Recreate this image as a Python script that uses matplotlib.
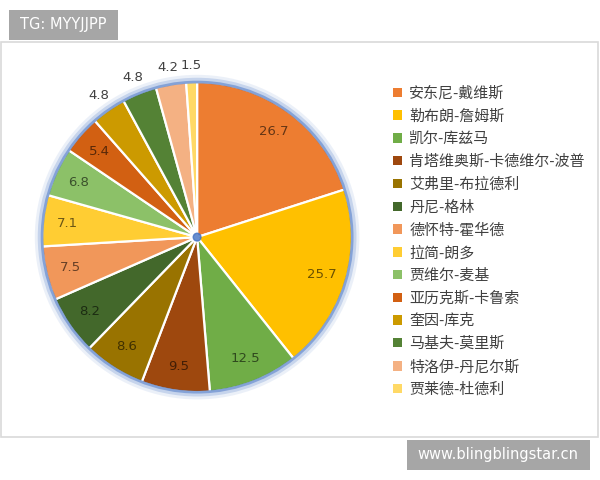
import numpy as np
import matplotlib
matplotlib.use("Agg")
import matplotlib.pyplot as plt
from matplotlib.patches import Rectangle, Circle

plt.rcParams['font.family'] = ['Noto Sans CJK SC', 'DejaVu Sans']

# players and values, clockwise from 12 o'clock
players = ["安东尼-戴维斯", "勒布朗-詹姆斯", "凯尔-库兹马", "肯塔维奥斯-卡德维尔-波普",
           "艾弗里-布拉德利", "丹尼-格林", "德怀特-霍华德", "拉简-朗多", "贾维尔-麦基",
           "亚历克斯-卡鲁索", "奎因-库克", "马基夫-莫里斯", "特洛伊-丹尼尔斯", "贾莱德-杜德利"]
values = [26.7, 25.7, 12.5, 9.5, 8.6, 8.2, 7.5, 7.1, 6.8, 5.4, 4.8, 4.8, 4.2, 1.5]
colors = ["#ED7D31", "#FFC000", "#70AD47", "#9E480E", "#997300", "#43682B", "#F1975A",
          "#FFCD33", "#8CC168", "#D26012", "#CC9A00", "#548235", "#F4B183", "#FFD966"]
outside = [False] * 10 + [True] * 4

fig = plt.figure(figsize=(6, 4.8), dpi=100)

# outer frame (behind the axes)
fig.patches.append(Rectangle((1 / 600, 43 / 480), 597 / 600, 395 / 480, transform=fig.transFigure,
                             facecolor="white", edgecolor="#d9d9d9", linewidth=1.2, zorder=-5))

ax = fig.add_axes([0.070, 0.183, 0.517, 0.646])
ax.set_zorder(2)
wedges, _ = ax.pie(values, colors=colors, startangle=90, counterclock=False,
                   wedgeprops=dict(edgecolor="white", linewidth=1.6))
for w in wedges:
    w.set_clip_on(False)

# blue glow around rim and centre
for r, lw, a in [(1.02, 6, 0.10), (1.01, 4, 0.22), (1.0, 2, 0.5)]:
    ax.add_patch(Circle((0, 0), r, fill=False, edgecolor="#4472C4", linewidth=lw, alpha=a, clip_on=False))
ax.add_patch(Circle((0, 0), 0.025, color="#4472C4", alpha=0.8))

for w, v, out in zip(wedges, values, outside):
    ang = np.deg2rad((w.theta1 + w.theta2) / 2)
    if out:
        r, col = 1.11, "#404040"
    else:
        r = 0.84
        col = tuple(c * 0.42 for c in matplotlib.colors.to_rgb(w.get_facecolor()))
    ax.text(r * np.cos(ang), r * np.sin(ang), f"{v}", ha="center", va="center",
            fontsize=9.5, color=col, family=["DejaVu Sans"])

ax.set_xlim(-1, 1)
ax.set_ylim(-1, 1)
ax.set_aspect("equal")
ax.axis("off")

leg = fig.legend(wedges, players, loc="upper left", bbox_to_anchor=(0.632, 0.849),
                 frameon=False, fontsize=10.8, handlelength=0.6, handleheight=0.6,
                 handletextpad=0.5, labelspacing=0.56)
for t in leg.get_texts():
    t.set_color("#404040")
for h in leg.legend_handles:
    h.set_edgecolor("none")

# watermark boxes
fig.patches.append(Rectangle((9 / 600, 1 - 40 / 480), 109 / 600, 30 / 480, transform=fig.transFigure,
                             facecolor="#a6a6a6", edgecolor="none"))
fig.text(63 / 600, 1 - 25 / 480, "TG: MYYJJPP", color="white", fontsize=10.5,
         ha="center", va="center", family=["DejaVu Sans"])
fig.patches.append(Rectangle((407 / 600, 1 - 470 / 480), 183 / 600, 30 / 480, transform=fig.transFigure,
                             facecolor="#a6a6a6", edgecolor="none"))
fig.text(498 / 600, 1 - 455 / 480, "www.blingblingstar.cn", color="white", fontsize=10.5,
         ha="center", va="center", family=["DejaVu Sans"])

fig.savefig("out.png", dpi=100)
